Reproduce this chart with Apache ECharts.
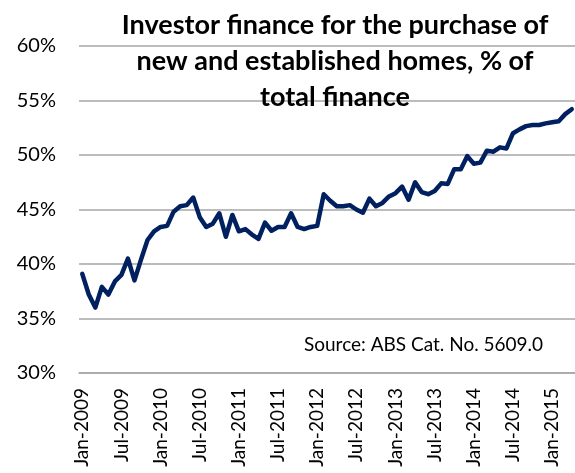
<!DOCTYPE html>
<html><head><meta charset="utf-8">
<script src="https://cdn.jsdelivr.net/npm/echarts@6/dist/echarts.min.js"></script>
<style>html,body{margin:0;padding:0;background:#fff}#c{width:575px;height:473px}</style>
</head><body><div id="c"></div>
<script>
var categories = [
'Jan-2009','Feb-2009','Mar-2009','Apr-2009','May-2009','Jun-2009','Jul-2009','Aug-2009','Sep-2009','Oct-2009','Nov-2009','Dec-2009',
'Jan-2010','Feb-2010','Mar-2010','Apr-2010','May-2010','Jun-2010','Jul-2010','Aug-2010','Sep-2010','Oct-2010','Nov-2010','Dec-2010',
'Jan-2011','Feb-2011','Mar-2011','Apr-2011','May-2011','Jun-2011','Jul-2011','Aug-2011','Sep-2011','Oct-2011','Nov-2011','Dec-2011',
'Jan-2012','Feb-2012','Mar-2012','Apr-2012','May-2012','Jun-2012','Jul-2012','Aug-2012','Sep-2012','Oct-2012','Nov-2012','Dec-2012',
'Jan-2013','Feb-2013','Mar-2013','Apr-2013','May-2013','Jun-2013','Jul-2013','Aug-2013','Sep-2013','Oct-2013','Nov-2013','Dec-2013',
'Jan-2014','Feb-2014','Mar-2014','Apr-2014','May-2014','Jun-2014','Jul-2014','Aug-2014','Sep-2014','Oct-2014','Nov-2014','Dec-2014',
'Jan-2015','Feb-2015','Mar-2015','Apr-2015'
];
var investorShare = [
39.1,37.2,36.0,37.9,37.2,38.4,39.0,40.5,38.5,40.4,42.2,43.0,
43.4,43.5,44.8,45.3,45.4,46.1,44.3,43.4,43.7,44.65,42.5,44.5,
43.0,43.2,42.7,42.3,43.8,43.05,43.4,43.4,44.65,43.4,43.2,43.4,
43.5,46.4,45.8,45.3,45.3,45.4,45.0,44.7,46.0,45.3,45.6,46.2,
46.5,47.1,45.9,47.5,46.6,46.4,46.7,47.4,47.35,48.7,48.7,49.9,
49.2,49.3,50.4,50.3,50.7,50.6,52.0,52.35,52.65,52.75,52.75,52.9,
53.0,53.1,53.75,54.2
];
var titleLines = ['Investor finance for the purchase of','new and established homes, % of','total finance'];
var sourceText = 'Source: ABS Cat. No. 5609.0';

var chart = echarts.init(document.getElementById('c'), null, {renderer:'canvas'});
chart.setOption({
  animation:false,
  backgroundColor:'#fff',
  textStyle:{fontFamily:'Lato'},
  title:{
    text:titleLines.join('\n'),
    left:330, top:2, textAlign:'center',
    textStyle:{fontFamily:'Lato', fontWeight:'bold', fontSize:27, lineHeight:36, color:'#000'}
  },
  grid:{left:79, right:0, top:46, bottom:100, containLabel:false},
  xAxis:{
    type:'category', data:categories, boundaryGap:true,
    axisLine:{lineStyle:{color:'#a6a6a6', width:1.5}},
    axisTick:{interval:5, length:5, lineStyle:{color:'#a6a6a6', width:1.5}},
    axisLabel:{interval:5, rotate:90, margin:15, fontSize:19, color:'#000', fontFamily:'Lato'},
    splitLine:{show:false}
  },
  yAxis:{
    type:'value', min:30, max:60, interval:5,
    axisLine:{show:false},
    axisTick:{show:false},
    axisLabel:{formatter:'{value}%', margin:23, fontSize:20, color:'#000', fontFamily:'Lato'},
    splitLine:{lineStyle:{color:'#a6a6a6', width:1.5}}
  },
  graphic:[{type:'text', left:304, top:335, style:{text:sourceText, fontFamily:'Lato', fontSize:19, fill:'#000'}}],
  series:[{
    type:'line', data:investorShare, symbol:'none', smooth:false,
    lineStyle:{color:'#002060', width:4.5, join:'round', cap:'round'}
  }]
});
</script></body></html>
